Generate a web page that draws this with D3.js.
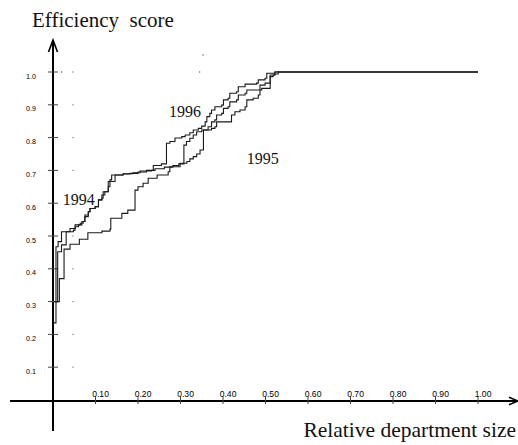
<!DOCTYPE html>
<html>
<head>
<meta charset="utf-8">
<script src="https://cdn.jsdelivr.net/npm/d3@7"></script>
<style>
  body { margin: 0; background: #fff; }
  svg { display: block; }
</style>
</head>
<body>
<div id="chart"></div>
<script>
// ---- data ----
const xTicks = [0.1, 0.2, 0.3, 0.4, 0.5, 0.6, 0.7, 0.8, 0.9, 1.0];
const yTicks = [0.1, 0.2, 0.3, 0.4, 0.5, 0.6, 0.7, 0.8, 0.9, 1.0];

// [relative department size, efficiency score], step-after
const series1994 = [
  [0.000,0.235],[0.007,0.467],[0.012,0.483],[0.020,0.513],[0.040,0.523],[0.052,0.534],
  [0.064,0.539],[0.071,0.544],[0.075,0.564],[0.083,0.574],[0.087,0.584],[0.099,0.589],
  [0.107,0.610],[0.115,0.615],[0.118,0.635],[0.130,0.666],[0.134,0.671],[0.138,0.686],
  [0.165,0.689],[0.181,0.691],[0.200,0.695],[0.220,0.700],[0.240,0.705],[0.262,0.710],
  [0.282,0.715],[0.296,0.720],[0.308,0.777],[0.314,0.788],[0.322,0.798],[0.330,0.808],
  [0.338,0.818],[0.350,0.823],[0.365,0.833],[0.373,0.848],[0.381,0.854],[0.385,0.869],
  [0.397,0.874],[0.401,0.889],[0.412,0.894],[0.416,0.909],[0.432,0.915],[0.436,0.930],
  [0.452,0.935],[0.456,0.945],[0.487,0.960],[0.499,0.966],[0.511,0.991],[0.522,0.994],
  [0.530,1.000],[1.000,1.000]
];
const series1995 = [
  [0.004,0.300],[0.015,0.370],[0.026,0.460],[0.040,0.475],[0.062,0.490],[0.082,0.510],
  [0.115,0.515],[0.134,0.521],[0.136,0.554],[0.162,0.569],[0.176,0.579],[0.193,0.640],
  [0.200,0.650],[0.212,0.661],[0.224,0.676],[0.245,0.686],[0.271,0.696],[0.275,0.711],
  [0.299,0.722],[0.315,0.727],[0.322,0.735],[0.330,0.742],[0.338,0.750],[0.346,0.762],
  [0.354,0.823],[0.373,0.828],[0.381,0.833],[0.385,0.848],[0.420,0.869],[0.428,0.879],
  [0.440,0.884],[0.452,0.894],[0.456,0.915],[0.471,0.920],[0.483,0.930],[0.487,0.945],
  [0.491,0.950],[0.511,0.986],[0.518,0.991],[0.522,1.000],[1.000,1.000]
];
const series1996 = [
  [0.003,0.300],[0.011,0.452],[0.020,0.473],[0.031,0.513],[0.048,0.518],[0.052,0.528],
  [0.060,0.534],[0.068,0.544],[0.075,0.559],[0.083,0.574],[0.087,0.584],[0.099,0.589],
  [0.107,0.610],[0.115,0.625],[0.122,0.635],[0.130,0.650],[0.134,0.666],[0.146,0.686],
  [0.165,0.690],[0.188,0.693],[0.205,0.698],[0.232,0.700],[0.236,0.715],[0.255,0.720],
  [0.267,0.783],[0.275,0.788],[0.287,0.799],[0.303,0.803],[0.311,0.808],[0.322,0.815],
  [0.330,0.823],[0.342,0.828],[0.350,0.835],[0.358,0.848],[0.362,0.864],[0.369,0.874],
  [0.373,0.884],[0.381,0.894],[0.397,0.899],[0.401,0.915],[0.412,0.920],[0.416,0.935],
  [0.432,0.940],[0.436,0.955],[0.452,0.963],[0.479,0.966],[0.483,0.976],[0.499,0.981],
  [0.503,0.996],[0.522,1.000],[1.000,1.000]
];

const yearLabels = [
  { text: "1994", x: 0.023, y: 0.595 },
  { text: "1996", x: 0.273, y: 0.862 },
  { text: "1995", x: 0.456, y: 0.720 }
];

// faint dots left over from the original grid
const gridDotX = 0.047;
const strayDots = [[0.020, 1.0], [0.345, 1.0], [0.353, 1.052]];

(function () {
    const W = 518, H = 445;

    const svg = d3.select("#chart")
        .append("svg")
        .attr("width", W)
        .attr("height", H);

    const x = d3.scaleLinear().domain([0, 1]).range([53, 478]);
    const y = d3.scaleLinear().domain([0, 1]).range([400, 72]);

    /* ---------------- grid dots ---------------- */
    svg.selectAll(".gdot")
        .data(yTicks)
        .enter().append("rect")
        .attr("x", x(gridDotX) - 0.6)
        .attr("y", d => y(d) - 0.6)
        .attr("width", 1.2)
        .attr("height", 1.2)
        .attr("fill", "#777");

    svg.selectAll(".sdot")
        .data(strayDots)
        .enter().append("rect")
        .attr("x", d => x(d[0]) - 0.6)
        .attr("y", d => y(d[1]) - 0.6)
        .attr("width", 1.2)
        .attr("height", 1.2)
        .attr("fill", "#555");

    /* ---------------- axes ---------------- */
    const axisY0 = y(0) + 1;
    svg.append("line")
        .attr("x1", 10).attr("x2", 517)
        .attr("y1", axisY0).attr("y2", axisY0)
        .attr("stroke", "#000").attr("stroke-width", 2);
    svg.append("line")
        .attr("x1", x(0)).attr("x2", x(0))
        .attr("y1", 431).attr("y2", 40)
        .attr("stroke", "#000").attr("stroke-width", 2);

    // arrow heads
    svg.append("path")
        .attr("d", `M${x(0) - 4.5},52 L${x(0)},40 L${x(0) + 4.5},52`)
        .attr("fill", "none").attr("stroke", "#000").attr("stroke-width", 1.6);
    svg.append("path")
        .attr("d", `M509,${axisY0 - 3.8} L518,${axisY0} L509,${axisY0 + 3.8}`)
        .attr("fill", "none").attr("stroke", "#000").attr("stroke-width", 1.6);

    // y ticks
    svg.selectAll(".ytick")
        .data(yTicks)
        .enter().append("line")
        .attr("x1", x(0) - 5).attr("x2", x(0) + 5)
        .attr("y1", d => y(d)).attr("y2", d => y(d))
        .attr("stroke", "#444").attr("stroke-width", 1);
    svg.selectAll(".ylab")
        .data(yTicks)
        .enter().append("text")
        .attr("x", 36)
        .attr("y", d => y(d) + 6.5)
        .attr("text-anchor", "end")
        .attr("font-family", "Liberation Sans, Arial, sans-serif")
        .attr("font-size", 7.2)
        .attr("fill", "#000")
        .text(d => d3.format(".1f")(d));

    // x ticks
    svg.selectAll(".xtick")
        .data(xTicks)
        .enter().append("line")
        .attr("x1", d => x(d)).attr("x2", d => x(d))
        .attr("y1", axisY0 - 4.5).attr("y2", axisY0 + 3)
        .attr("stroke", "#444").attr("stroke-width", 1);
    svg.selectAll(".xlab")
        .data(xTicks)
        .enter().append("text")
        .attr("x", d => x(d) - 3.3)
        .attr("y", axisY0 - 4)
        .attr("font-family", "Liberation Sans, Arial, sans-serif")
        .attr("font-size", 8.6)
        .attr("fill", "#000")
        .text(d => d3.format(".2f")(d));

    /* ---------------- curves ---------------- */
    const line = d3.line()
        .x(d => x(d[0]))
        .y(d => y(d[1]))
        .curve(d3.curveStepAfter);

    [series1995, series1994, series1996].forEach(s => {
        svg.append("path")
            .datum(s)
            .attr("d", line)
            .attr("fill", "none")
            .attr("stroke", "#1a1a1a")
            .attr("stroke-width", 1.1);
    });

    /* ---------------- text ---------------- */
    svg.selectAll(".year")
        .data(yearLabels)
        .enter().append("text")
        .attr("x", d => x(d.x))
        .attr("y", d => y(d.y))
        .attr("font-family", "Liberation Serif, Times New Roman, serif")
        .attr("font-size", 16)
        .attr("fill", "#111")
        .text(d => d.text);

    svg.append("text")
        .attr("x", 32)
        .attr("y", 27)
        .attr("font-family", "Liberation Serif, Times New Roman, serif")
        .attr("font-size", 21)
        .attr("fill", "#111")
        .attr("xml:space", "preserve")
        .text("Efficiency  score");

    svg.append("text")
        .attr("x", 516)
        .attr("y", 437)
        .attr("text-anchor", "end")
        .attr("font-family", "Liberation Serif, Times New Roman, serif")
        .attr("font-size", 21.5)
        .attr("fill", "#111")
        .text("Relative department size");
})();
</script>
</body>
</html>
